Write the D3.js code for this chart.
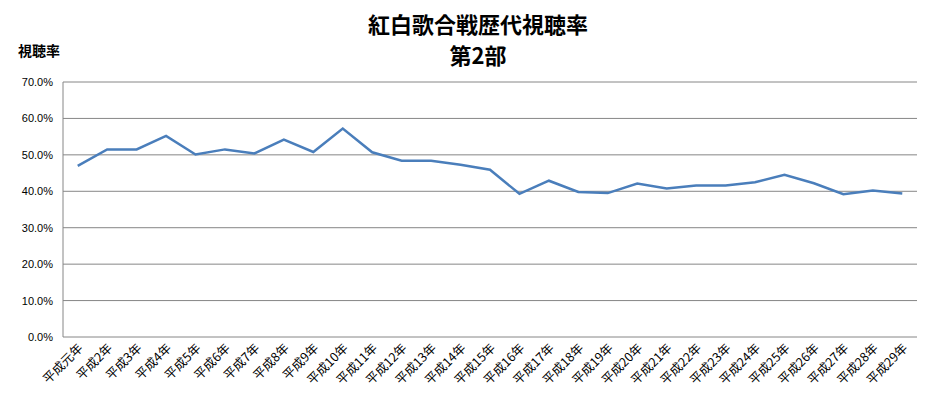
<!DOCTYPE html><html><head><meta charset="utf-8"><script src="https://cdn.jsdelivr.net/npm/d3@7"></script>
<style>body{margin:0;background:#fff}text{font-family:"Noto Sans CJK JP",sans-serif;fill:#000}</style></head><body><svg id="c" width="926" height="400"></svg><script>
const categories=["平成元年","平成2年","平成3年","平成4年","平成5年","平成6年","平成7年","平成8年","平成9年","平成10年","平成11年","平成12年","平成13年","平成14年","平成15年","平成16年","平成17年","平成18年","平成19年","平成20年","平成21年","平成22年","平成23年","平成24年","平成25年","平成26年","平成27年","平成28年","平成29年"];
const values=[47.0,51.5,51.5,55.2,50.1,51.5,50.4,54.2,50.8,57.2,50.7,48.4,48.4,47.3,45.9,39.3,42.9,39.8,39.5,42.1,40.8,41.6,41.6,42.5,44.5,42.2,39.2,40.2,39.4];
const yTicks=[0,10,20,30,40,50,60,70];
const svg=d3.select("#c");
const L=63,R=917,T=82,B=337;
const x=d3.scaleBand().domain(categories).range([L,R]);
const y=d3.scaleLinear().domain([0,70]).range([B,T]);
svg.append("g").selectAll("line").data(yTicks.slice(1)).join("line").attr("x1",L).attr("x2",R).attr("y1",d=>y(d)).attr("y2",d=>y(d)).attr("stroke","#868686");
svg.append("line").attr("x1",L).attr("x2",L).attr("y1",T).attr("y2",B).attr("stroke","#868686");
svg.append("line").attr("x1",L).attr("x2",R).attr("y1",B).attr("y2",B).attr("stroke","#868686");
svg.append("g").selectAll("text").data(yTicks).join("text").attr("x",L-10).attr("y",d=>y(d)+4).attr("text-anchor","end").attr("font-size",11).style("font-family","Liberation Sans,Arial").text(d=>d.toFixed(1)+"%");
svg.append("g").selectAll("text").data(categories).join("text").attr("transform",d=>`translate(${x(d)+x.bandwidth()/2+6},${B+12}) rotate(-45)`).attr("text-anchor","end").attr("font-size",12.5).text(d=>d);
svg.append("path").datum(values).attr("fill","none").attr("stroke","#4a7ebb").attr("stroke-width",2.5).attr("d",d3.line().x((d,i)=>x(categories[i])+x.bandwidth()/2).y(d=>y(d)));
svg.append("text").attr("x",478).attr("y",33).attr("text-anchor","middle").attr("font-size",22).attr("font-weight","bold").text("紅白歌合戦歴代視聴率");
svg.append("text").attr("x",478).attr("y",64).attr("text-anchor","middle").attr("font-size",22).attr("font-weight","bold").text("第2部");
svg.append("text").attr("x",18).attr("y",56).attr("font-size",14).attr("font-weight","bold").text("視聴率");
</script></body></html>
